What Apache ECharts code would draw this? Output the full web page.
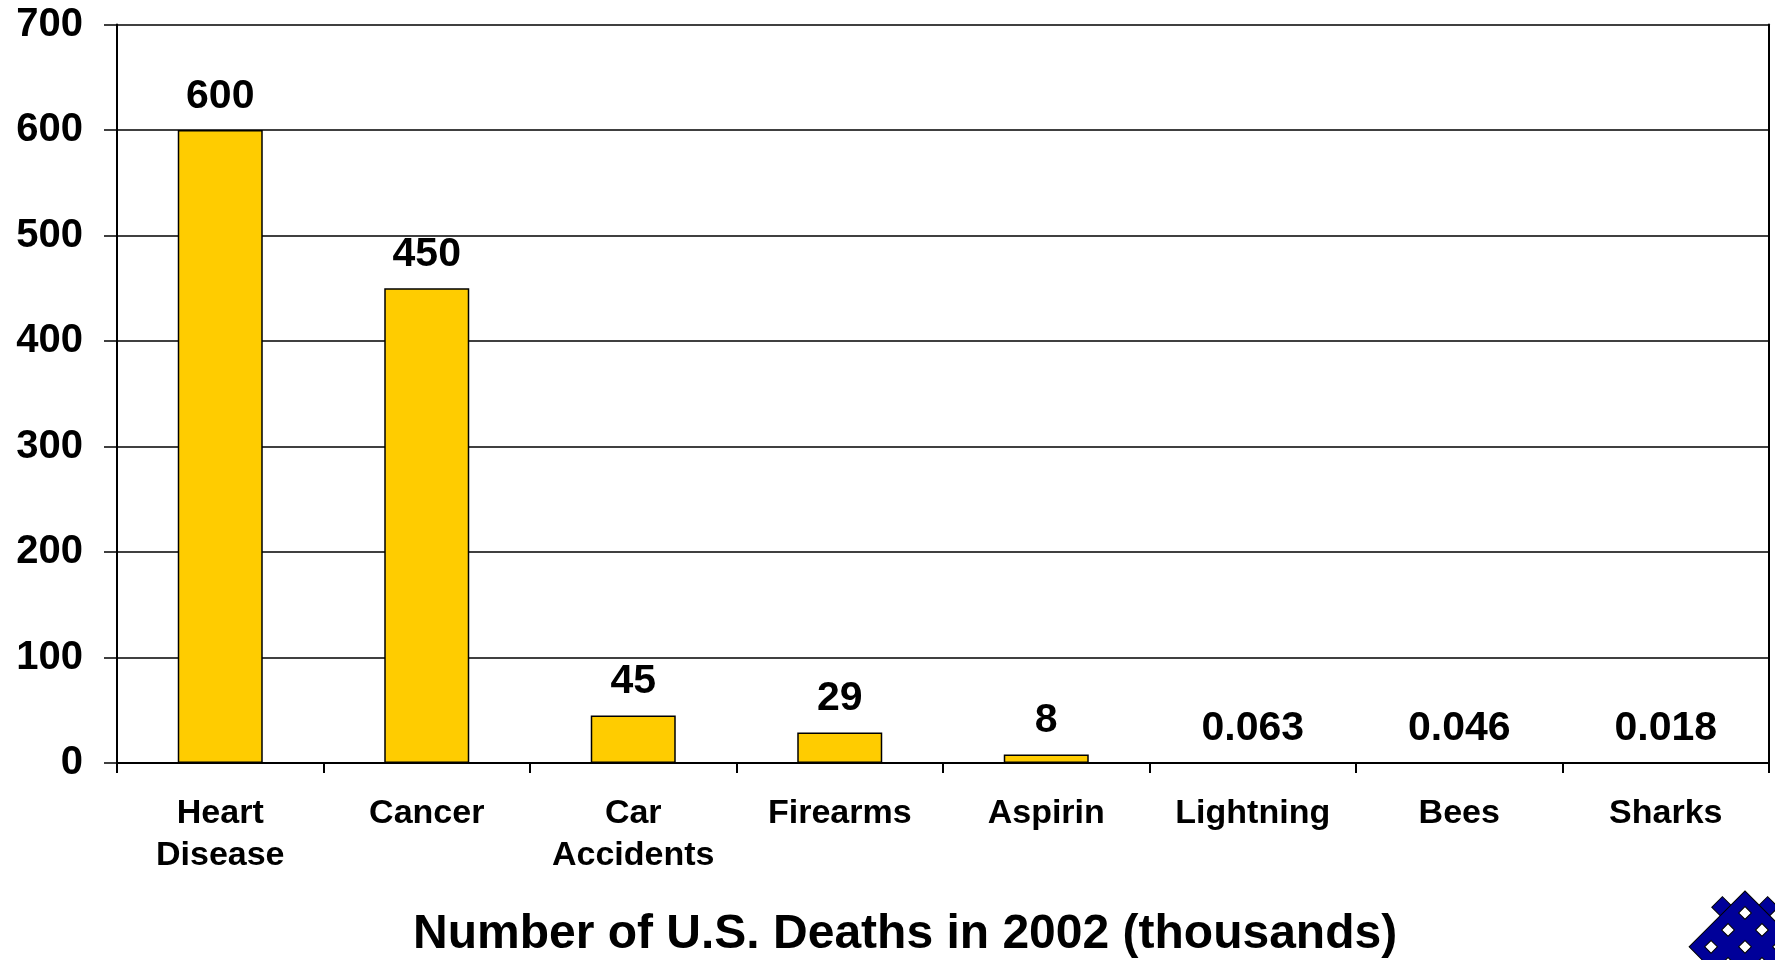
<!DOCTYPE html>
<html>
<head>
<meta charset="utf-8">
<script src="https://cdn.jsdelivr.net/npm/echarts@6/dist/echarts.min.js"></script>
<style>
html,body{margin:0;padding:0;background:#fff;}
#chart{width:1775px;height:960px;}
</style>
</head>
<body>
<div id="chart"></div>
<script>
const categories = ["Heart\nDisease", "Cancer", "Car\nAccidents", "Firearms", "Aspirin", "Lightning", "Bees", "Sharks"];
const deaths = [600, 450, 45, 29, 8, 0.063, 0.046, 0.018];
const yTicks = [0, 100, 200, 300, 400, 500, 600, 700];
const chartTitle = "Number of U.S. Deaths in 2002 (thousands)";

const FONT = "'Liberation Sans', Arial, Helvetica, sans-serif";
const chart = echarts.init(document.getElementById('chart'), null, {renderer: 'canvas'});

// decorative woven logo, in a rotated local frame
const BLUE = '#000099';
const logoChildren = [];
const edgeStyle = {fill: BLUE, stroke: '#000', lineWidth: 1};
logoChildren.push({type: 'rect', shape: {x: -12, y: 20, width: 14, height: 15}, style: edgeStyle});
logoChildren.push({type: 'rect', shape: {x: 20, y: -12, width: 15, height: 14}, style: edgeStyle});
logoChildren.push({type: 'rect', shape: {x: 0, y: 0, width: 160, height: 79}, style: edgeStyle});
for (let i = 0; i < 6; i++) {
  for (let j = 0; j < 3; j++) {
    logoChildren.push({type: 'rect',
      shape: {x: 11 + 24 * i, y: 11 + 24 * j, width: 9, height: 9},
      style: {fill: '#fff', stroke: '#000', lineWidth: 1}});
  }
}

chart.setOption({
  animation: false,
  backgroundColor: '#fff',
  title: {
    text: chartTitle,
    left: 408, top: 906,
    textStyle: {fontFamily: FONT, fontWeight: 'bold', fontSize: 48, color: '#000', lineHeight: 48}
  },
  grid: {left: 117, right: 6, top: 24.5, bottom: 197, containLabel: false},
  xAxis: {
    type: 'category',
    data: categories,
    boundaryGap: true,
    axisLine: {show: true, lineStyle: {color: '#000', width: 2}},
    axisTick: {show: true, alignWithLabel: false, length: 10, lineStyle: {color: '#000', width: 2}},
    axisLabel: {interval: 0, margin: 30, fontFamily: FONT, fontWeight: 'bold', fontSize: 34, color: '#000', lineHeight: 42, align: 'center'},
    splitLine: {show: false}
  },
  yAxis: [{
    type: 'value',
    min: yTicks[0], max: yTicks[yTicks.length - 1], interval: 100,
    axisLine: {show: true, lineStyle: {color: '#000', width: 2}},
    axisTick: {show: true, length: 13, lineStyle: {color: '#000', width: 1.5}},
    axisLabel: {margin: 34, fontFamily: FONT, fontWeight: 'bold', fontSize: 40, color: '#000'},
    splitLine: {show: true, lineStyle: {color: '#000', width: 1.5}}
  }, {
    type: 'value', position: 'right',
    min: yTicks[0], max: yTicks[yTicks.length - 1], interval: 100,
    axisLine: {show: true, lineStyle: {color: '#000', width: 2}},
    axisTick: {show: false}, axisLabel: {show: false}, splitLine: {show: false}
  }],
  series: [{
    type: 'bar',
    data: deaths,
    barWidth: 85,
    itemStyle: {color: '#FFCC00', borderColor: '#000', borderWidth: 1.5},
    label: {show: true, position: 'top', distance: 13, fontFamily: FONT, fontWeight: 'bold', fontSize: 41, color: '#000', lineHeight: 41}
  }],
  graphic: [{
    type: 'group', x: 1745, y: 891, rotation: -Math.PI / 4,
    children: logoChildren
  }]
});
</script>
</body>
</html>
